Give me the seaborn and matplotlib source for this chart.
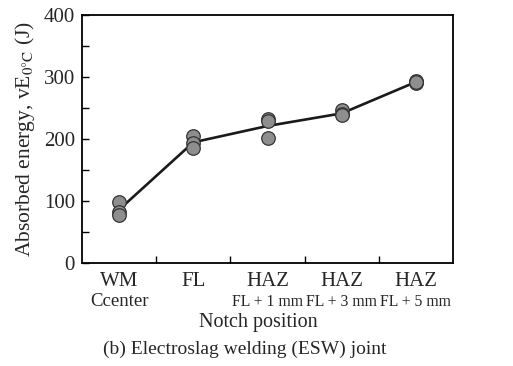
import numpy as np
import pandas as pd
import matplotlib
matplotlib.use("Agg")
import matplotlib.pyplot as plt
import matplotlib.transforms as mtransforms
import seaborn as sns

categories = ["WM", "FL", "HAZ", "HAZ", "HAZ"]
sublabels = ["Ccenter", "", "FL + 1 mm", "FL + 3 mm", "FL + 5 mm"]
wm = [98, 82, 78]
fl = [205, 194, 185]
haz1 = [233, 229, 201]
haz3 = [246, 240, 238]
haz5 = [294, 290, 292]
yticks = [0, 100, 200, 300, 400]

sns.set_theme(style="ticks")
plt.rcParams["font.family"] = ["Liberation Serif", "DejaVu Serif"]
plt.rcParams["mathtext.fontset"] = "stix"

groups = [wm, fl, haz1, haz3, haz5]
rows = []
for i, g in enumerate(groups):
    for v in g:
        rows.append({"pos": i, "energy": v})
df = pd.DataFrame(rows)

W, H = 513, 366
fig = plt.figure(figsize=(W / 100, H / 100), dpi=100)
ax = fig.add_axes([82 / W, 1 - 263 / H, 371 / W, 248 / H])

sns.lineplot(data=df, x="pos", y="energy", estimator="mean", errorbar=None,
             color="#1a1a1a", linewidth=1.9, ax=ax, zorder=2)
sns.scatterplot(data=df, x="pos", y="energy", s=95, color="#8e8e8e",
                edgecolor="#333333", linewidth=0.9, ax=ax, zorder=3)

ax.set_xlim(-0.5, 4.5)
ax.set_ylim(0, 400)
ax.set_yticks(yticks)
ax.set_yticks([50, 150, 250, 350], minor=True)
ax.set_xticks([0.5, 1.5, 2.5, 3.5])
ax.set_xticklabels([])
ax.tick_params(axis="both", which="both", direction="in", length=5, width=1.0, color="black")
ax.tick_params(axis="y", labelsize=15, pad=5)
for s in ax.spines.values():
    s.set_visible(True)
    s.set_linewidth(1.3)
    s.set_color("black")

tr = mtransforms.blended_transform_factory(ax.transData, fig.transFigure)
for i, (c, sl) in enumerate(zip(categories, sublabels)):
    ax.text(i, 1 - 281 / H, c, ha="center", va="center", fontsize=15, transform=tr)
    if sl:
        fs = 13.5 if i == 0 else 11.3
        ax.text(i, 1 - 302 / H, sl, ha="center", va="center", fontsize=fs, transform=tr)

ax.set_xlabel("")
ax.set_ylabel(r"Absorbed energy, vE$_{0\degree\mathrm{C}}$ (J)", fontsize=15.5, labelpad=5)
fig.text(258 / W, 1 - 322 / H, "Notch position", ha="center", va="center", fontsize=14.5)
fig.text(245 / W, 1 - 349 / H, "(b) Electroslag welding (ESW) joint", ha="center",
         va="center", fontsize=14)

fig.savefig("out.png", dpi=100)
